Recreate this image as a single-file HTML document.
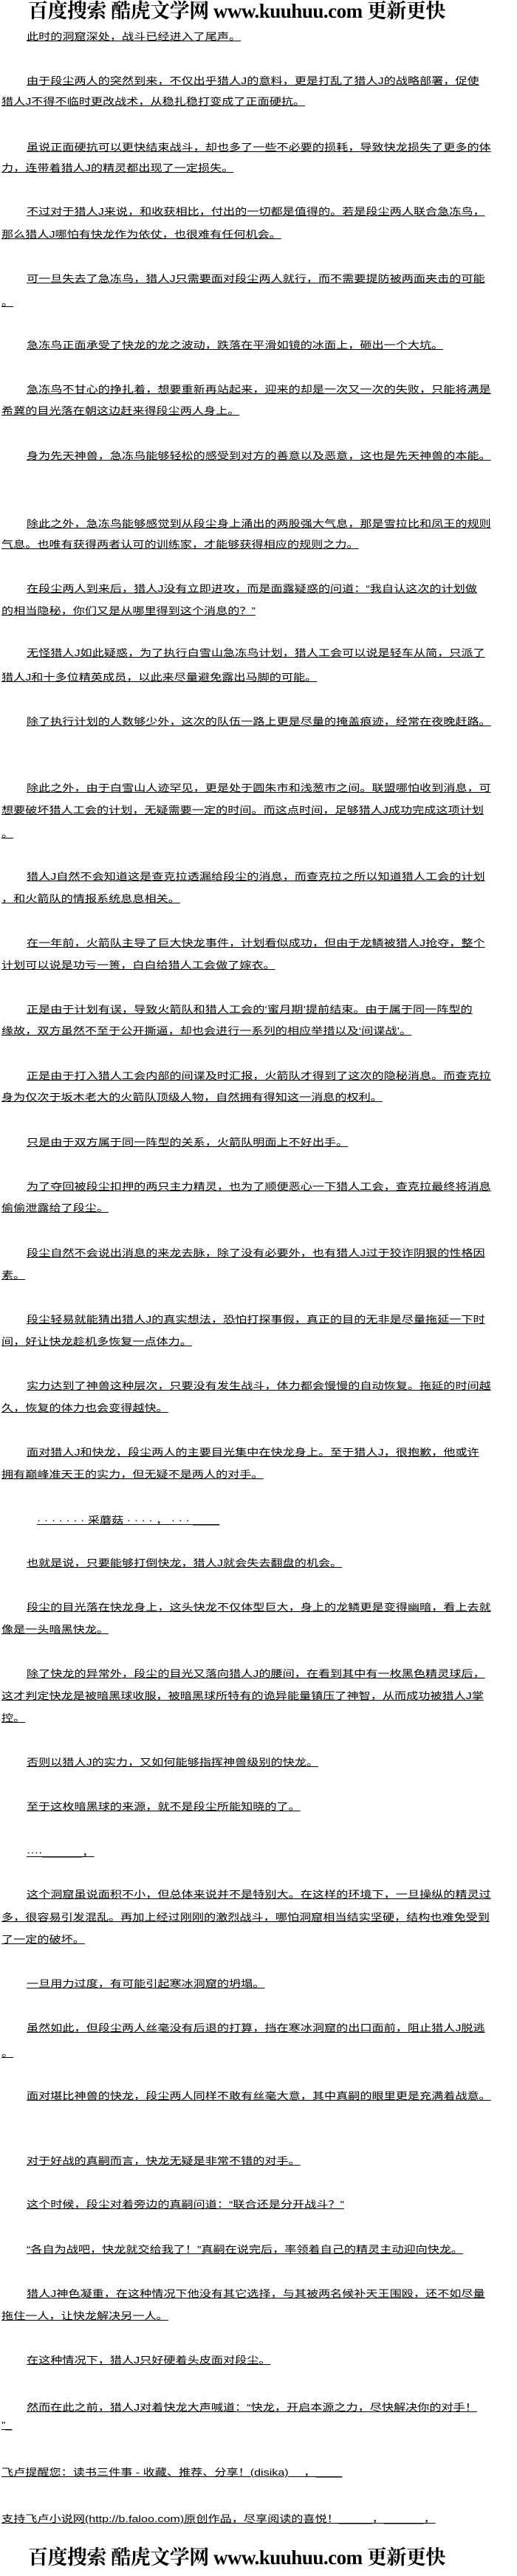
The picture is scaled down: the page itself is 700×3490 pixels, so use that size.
<!DOCTYPE html>
<html><head><meta charset="utf-8">
<style>
html,body{margin:0;padding:0;background:#fff;}
body{width:700px;height:3490px;position:relative;overflow:hidden;font-family:"Liberation Sans","WenQuanYi Zen Hei","Noto Sans CJK SC",sans-serif;color:#000;}
.l{position:absolute;left:36px;height:28px;line-height:28px;font-size:13px;white-space:nowrap;text-decoration:underline;transform:scaleX(1.24);transform-origin:0 50%;}
.c{left:2px;}
.b{position:absolute;left:38px;width:620px;height:32px;line-height:32px;font-size:27px;font-weight:bold;white-space:nowrap;font-family:"Liberation Serif","Noto Serif CJK SC",serif;letter-spacing:-0.5px;}
</style></head><body>
<div class="b" style="top:-1px">百度搜索 酷虎文学网 www.kuuhuu.com 更新更快</div>
<div class="l" style="top:36px">此时的洞窟深处，战斗已经进入了尾声。</div>
<div class="l" style="top:96px">由于段尘两人的突然到来，不仅出乎猎人J的意料，更是打乱了猎人J的战略部署，促使</div>
<div class="l c" style="top:124px">猎人J不得不临时更改战术，从稳扎稳打变成了正面硬抗。</div>
<div class="l" style="top:186px">虽说正面硬抗可以更快结束战斗，却也多了一些不必要的损耗，导致快龙损失了更多的体</div>
<div class="l c" style="top:214px">力，连带着猎人J的精灵都出现了一定损失。</div>
<div class="l" style="top:273px">不过对于猎人J来说，和收获相比，付出的一切都是值得的。若是段尘两人联合急冻鸟，</div>
<div class="l c" style="top:304px">那么猎人J哪怕有快龙作为依仗，也很难有任何机会。</div>
<div class="l" style="top:364px">可一旦失去了急冻鸟，猎人J只需要面对段尘两人就行，而不需要提防被两面夹击的可能</div>
<div class="l c" style="top:396px">。</div>
<div class="l" style="top:454px">急冻鸟正面承受了快龙的龙之波动，跌落在平滑如镜的冰面上，砸出一个大坑。</div>
<div class="l" style="top:514px">急冻鸟不甘心的挣扎着，想要重新再站起来，迎来的却是一次又一次的失败，只能将满是</div>
<div class="l c" style="top:543px">希冀的目光落在朝这边赶来得段尘两人身上。</div>
<div class="l" style="top:604px">身为先天神兽，急冻鸟能够轻松的感受到对方的善意以及恶意，这也是先天神兽的本能。</div>
<div class="l" style="top:696px">除此之外，急冻鸟能够感觉到从段尘身上涌出的两股强大气息，那是雪拉比和凤王的规则</div>
<div class="l c" style="top:724px">气息。也唯有获得两者认可的训练家，才能够获得相应的规则之力。</div>
<div class="l" style="top:784px">在段尘两人到来后，猎人J没有立即进攻，而是面露疑惑的问道：“我自认这次的计划做</div>
<div class="l c" style="top:814px">的相当隐秘，你们又是从哪里得到这个消息的？”</div>
<div class="l" style="top:871px">无怪猎人J如此疑惑，为了执行白雪山急冻鸟计划，猎人工会可以说是轻车从简，只派了</div>
<div class="l c" style="top:904px">猎人J和十多位精英成员，以此来尽量避免露出马脚的可能。</div>
<div class="l" style="top:964px">除了执行计划的人数够少外，这次的队伍一路上更是尽量的掩盖痕迹，经常在夜晚赶路。</div>
<div class="l" style="top:1054px">除此之外，由于白雪山人迹罕见，更是处于圆朱市和浅葱市之间。联盟哪怕收到消息，可</div>
<div class="l c" style="top:1084px">想要破坏猎人工会的计划，无疑需要一定的时间。而这点时间，足够猎人J成功完成这项计划</div>
<div class="l c" style="top:1116px">。</div>
<div class="l" style="top:1174px">猎人J自然不会知道这是查克拉透漏给段尘的消息，而查克拉之所以知道猎人工会的计划</div>
<div class="l c" style="top:1204px">，和火箭队的情报系统息息相关。</div>
<div class="l" style="top:1264px">在一年前，火箭队主导了巨大快龙事件，计划看似成功，但由于龙鳞被猎人J抢夺，整个</div>
<div class="l c" style="top:1294px">计划可以说是功亏一篑，白白给猎人工会做了嫁衣。</div>
<div class="l" style="top:1354px">正是由于计划有误，导致火箭队和猎人工会的‘蜜月期’提前结束。由于属于同一阵型的</div>
<div class="l c" style="top:1383px">缘故，双方虽然不至于公开撕逼，却也会进行一系列的相应举措以及‘间谍战’。</div>
<div class="l" style="top:1444px">正是由于打入猎人工会内部的间谍及时汇报，火箭队才得到了这次的隐秘消息。而查克拉</div>
<div class="l c" style="top:1473px">身为仅次于坂木老大的火箭队顶级人物，自然拥有得知这一消息的权利。</div>
<div class="l" style="top:1534px">只是由于双方属于同一阵型的关系，火箭队明面上不好出手。</div>
<div class="l" style="top:1594px">为了夺回被段尘扣押的两只主力精灵，也为了顺便恶心一下猎人工会，查克拉最终将消息</div>
<div class="l c" style="top:1623px">偷偷泄露给了段尘。</div>
<div class="l" style="top:1684px">段尘自然不会说出消息的来龙去脉，除了没有必要外，也有猎人J过于狡诈阴狠的性格因</div>
<div class="l c" style="top:1714px">素。</div>
<div class="l" style="top:1774px">段尘轻易就能猜出猎人J的真实想法，恐怕打探事假，真正的目的无非是尽量拖延一下时</div>
<div class="l c" style="top:1804px">间，好让快龙趁机多恢复一点体力。</div>
<div class="l" style="top:1864px">实力达到了神兽这种层次，只要没有发生战斗，体力都会慢慢的自动恢复。拖延的时间越</div>
<div class="l c" style="top:1894px">久，恢复的体力也会变得越快。</div>
<div class="l" style="top:1954px">面对猎人J和快龙，段尘两人的主要目光集中在快龙身上。至于猎人J，很抱歉，他或许</div>
<div class="l c" style="top:1984px">拥有巅峰准天王的实力，但无疑不是两人的对手。</div>
<div class="l" style="top:2046px;left:50px">· · · · · · · 采蘑菇 · · · · ， · · · ____</div>
<div class="l" style="top:2104px">也就是说，只要能够打倒快龙，猎人J就会失去翻盘的机会。</div>
<div class="l" style="top:2164px">段尘的目光落在快龙身上，这头快龙不仅体型巨大，身上的龙鳞更是变得幽暗，看上去就</div>
<div class="l c" style="top:2194px">像是一头暗黑快龙。</div>
<div class="l" style="top:2254px">除了快龙的异常外，段尘的目光又落向猎人J的腰间，在看到其中有一枚黑色精灵球后，</div>
<div class="l c" style="top:2284px">这才判定快龙是被暗黑球收服，被暗黑球所特有的诡异能量镇压了神智，从而成功被猎人J掌</div>
<div class="l c" style="top:2314px">控。</div>
<div class="l" style="top:2374px">否则以猎人J的实力，又如何能够指挥神兽级别的快龙。</div>
<div class="l" style="top:2434px">至于这枚暗黑球的来源，就不是段尘所能知晓的了。</div>
<div class="l" style="top:2496px">····______，</div>
<div class="l" style="top:2553px">这个洞窟虽说面积不小，但总体来说并不是特别大。在这样的环境下，一旦操纵的精灵过</div>
<div class="l c" style="top:2584px">多，很容易引发混乱。再加上经过刚刚的激烈战斗，哪怕洞窟相当结实坚硬，结构也难免受到</div>
<div class="l c" style="top:2614px">了一定的破坏。</div>
<div class="l" style="top:2674px">一旦用力过度，有可能引起寒冰洞窟的坍塌。</div>
<div class="l" style="top:2734px">虽然如此，但段尘两人丝毫没有后退的打算，挡在寒冰洞窟的出口面前，阻止猎人J脱逃</div>
<div class="l c" style="top:2768px">。</div>
<div class="l" style="top:2826px">面对堪比神兽的快龙，段尘两人同样不敢有丝毫大意，其中真嗣的眼里更是充满着战意。</div>
<div class="l" style="top:2914px">对于好战的真嗣而言，快龙无疑是非常不错的对手。</div>
<div class="l" style="top:2973px">这个时候，段尘对着旁边的真嗣问道：“联合还是分开战斗？”</div>
<div class="l" style="top:3034px">“各自为战吧，快龙就交给我了！”真嗣在说完后，率领着自己的精灵主动迎向快龙。</div>
<div class="l" style="top:3094px">猎人J神色凝重，在这种情况下他没有其它选择，与其被两名候补天王围殴，还不如尽量</div>
<div class="l c" style="top:3124px">拖住一人，让快龙解决另一人。</div>
<div class="l" style="top:3184px">在这种情况下，猎人J只好硬着头皮面对段尘。</div>
<div class="l" style="top:3248px">然而在此之前，猎人J对着快龙大声喊道：“快龙，开启本源之力，尽快解决你的对手！</div>
<div class="l c" style="top:3272px">”_</div>
<div class="l c" style="top:3336px">飞卢提醒您：读书三件事 - 收藏、推荐、分享！(disika)　 ，____</div>
<div class="l c" style="top:3399px">支持飞卢小说网(http://b.faloo.com)原创作品，尽享阅读的喜悦！_____，______，</div>
<div class="b" style="top:3449px">百度搜索 酷虎文学网 www.kuuhuu.com 更新更快</div>
</body></html>
